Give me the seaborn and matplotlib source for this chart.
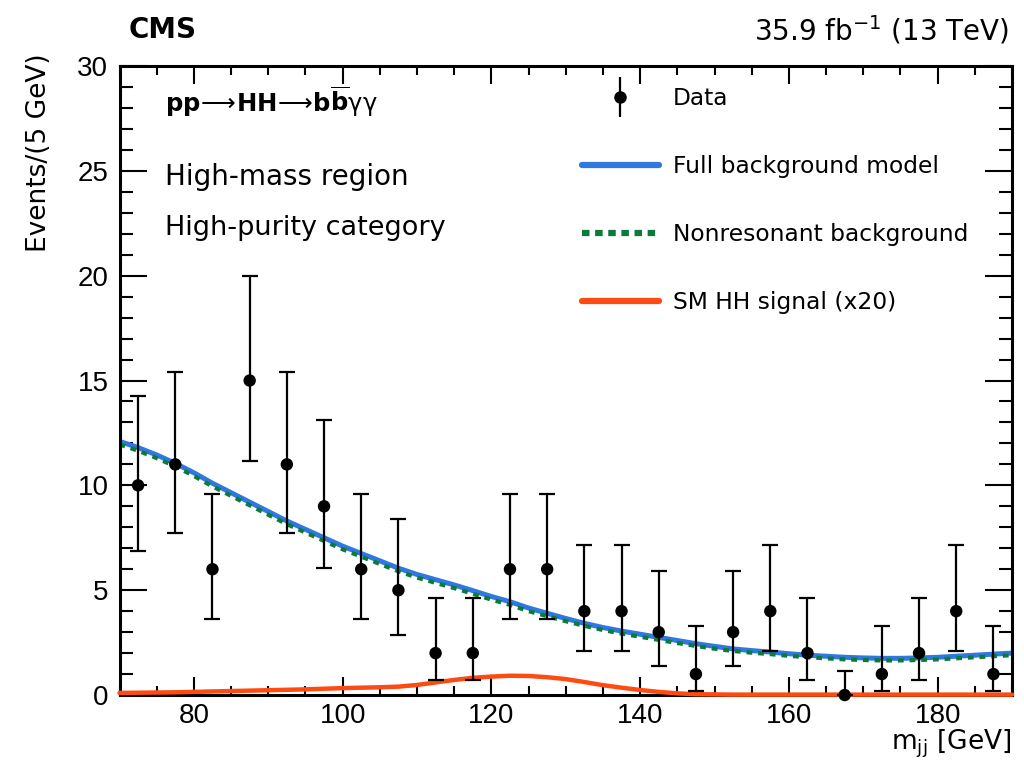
import numpy as np
import pandas as pd
import matplotlib
matplotlib.use("Agg")
import matplotlib.pyplot as plt
from matplotlib.lines import Line2D
from matplotlib.legend_handler import HandlerErrorbar
from matplotlib.ticker import MultipleLocator
import seaborn as sns

# binned data (bin centres, 5 GeV bins)
mass = [72.5, 77.5, 82.5, 87.5, 92.5, 97.5, 102.5, 107.5, 112.5, 117.5, 122.5, 127.5,
        132.5, 137.5, 142.5, 147.5, 152.5, 157.5, 162.5, 167.5, 172.5, 177.5, 182.5, 187.5]
events = [10, 11, 6, 15, 11, 9, 6, 5, 2, 2, 6, 6, 4, 4, 3, 1, 3, 4, 2, 0, 1, 2, 4, 1]
err_down = [3.11, 3.27, 2.38, 3.82, 3.27, 2.94, 2.38, 2.16, 1.29, 1.29, 2.38, 2.38,
            1.91, 1.91, 1.63, 0.83, 1.63, 1.91, 1.29, 0.0, 0.83, 1.29, 1.91, 0.83]
err_up = [4.27, 4.42, 3.58, 4.97, 4.42, 4.11, 3.58, 3.38, 2.64, 2.64, 3.58, 3.58,
          3.16, 3.16, 2.92, 2.30, 2.92, 3.16, 2.64, 1.15, 2.30, 2.64, 3.16, 2.30]

# model curves sampled every 2.5 GeV
curve_mass = [70, 72.5, 75, 77.5, 80, 82.5, 85, 87.5, 90, 92.5, 95, 97.5, 100, 102.5, 105,
              107.5, 110, 112.5, 115, 117.5, 120, 122.5, 125, 127.5, 130, 132.5, 135, 137.5,
              140, 142.5, 145, 147.5, 150, 152.5, 155, 157.5, 160, 162.5, 165, 167.5, 170,
              172.5, 175, 177.5, 180, 182.5, 185, 187.5, 190]
bkg_full = [12.1, 11.8, 11.45, 11.05, 10.6, 10.1, 9.65, 9.2, 8.75, 8.3, 7.9, 7.5, 7.1, 6.75,
            6.4, 6.05, 5.75, 5.5, 5.25, 4.98, 4.7, 4.45, 4.15, 3.9, 3.65, 3.42, 3.22, 3.05,
            2.9, 2.75, 2.6, 2.45, 2.32, 2.2, 2.12, 2.05, 1.97, 1.9, 1.85, 1.8, 1.77, 1.75,
            1.75, 1.77, 1.8, 1.85, 1.9, 1.95, 2.0]
bkg_nonres = [11.95, 11.65, 11.3, 10.9, 10.45, 9.95, 9.5, 9.05, 8.6, 8.15, 7.75, 7.35, 6.95,
              6.6, 6.25, 5.9, 5.6, 5.35, 5.1, 4.83, 4.55, 4.3, 4.0, 3.76, 3.52, 3.3, 3.1,
              2.93, 2.78, 2.63, 2.48, 2.34, 2.21, 2.1, 2.02, 1.95, 1.87, 1.8, 1.75, 1.7,
              1.67, 1.65, 1.65, 1.67, 1.7, 1.75, 1.8, 1.85, 1.9]
signal_x20 = [0.10, 0.11, 0.12, 0.13, 0.15, 0.17, 0.19, 0.21, 0.23, 0.25, 0.27, 0.30, 0.33,
              0.35, 0.37, 0.40, 0.48, 0.60, 0.72, 0.82, 0.88, 0.92, 0.91, 0.85, 0.76, 0.62,
              0.47, 0.35, 0.24, 0.15, 0.08, 0.04, 0.03, 0.02, 0.02, 0.02, 0.02, 0.02, 0.02,
              0.02, 0.02, 0.02, 0.02, 0.02, 0.02, 0.02, 0.02, 0.02, 0.02]

blue = "#2f78e0"
green = "#0b7a3b"
red = "#ff4a12"

sns.set_theme(style="ticks")
plt.rcParams["font.family"] = ["DejaVu Sans"]
plt.rcParams["mathtext.fontset"] = "dejavusans"
plt.rcParams["text.color"] = "black"
plt.rcParams["axes.labelcolor"] = "black"

fig = plt.figure(figsize=(10.24, 7.72), dpi=100)
ax = fig.add_axes([0.1167, 0.0997, 0.8716, 0.8148])

curves = pd.DataFrame({"mass": curve_mass, "full": bkg_full,
                       "nonres": bkg_nonres, "signal": signal_x20})
sns.lineplot(data=curves, x="mass", y="full", ax=ax, color=blue, lw=3.6, zorder=2)
sns.lineplot(data=curves, x="mass", y="nonres", ax=ax, color=green, lw=3,
             linestyle=(0, (1.4, 1.4)), zorder=2.5)
sns.lineplot(data=curves, x="mass", y="signal", ax=ax, color=red, lw=3.2, zorder=3,
             clip_on=False)

ax.errorbar(mass, events, yerr=[err_down, err_up], fmt="none", ecolor="black",
            elinewidth=1.6, capsize=5.5, capthick=1.6, zorder=4)
points = pd.DataFrame({"mass": mass, "events": events})
sns.scatterplot(data=points, x="mass", y="events", ax=ax, color="black", s=80,
                edgecolor="none", zorder=5, clip_on=False)

ax.set_xlim(70, 190)
ax.set_ylim(0, 30)
ax.xaxis.set_major_locator(MultipleLocator(20))
ax.xaxis.set_minor_locator(MultipleLocator(5))
ax.yaxis.set_major_locator(MultipleLocator(5))
ax.yaxis.set_minor_locator(MultipleLocator(1))
ax.tick_params(which="both", direction="in", top=True, right=True, width=1.5,
               labelsize=20, pad=8, colors="black", labelfontfamily="Liberation Sans")
ax.tick_params(axis="x", which="both", pad=6)
ax.tick_params(axis="x", which="major", length=13)
ax.tick_params(axis="x", which="minor", length=6.5)
ax.tick_params(axis="y", which="major", length=19.5)
ax.tick_params(axis="y", which="minor", length=9.5)
for sp in ax.spines.values():
    sp.set_linewidth(2.2)
    sp.set_color("black")

ax.set_xlabel(r"m$_{\mathregular{jj}}$ [GeV]", fontsize=19, loc="right")
ax.xaxis.set_label_coords(0.999, -0.052)
ax.set_ylabel("Events/(5 GeV)", fontsize=19, loc="top")
ax.yaxis.set_label_coords(-0.076, 1.02)

fig.text(0.126, 0.961, "CMS", fontsize=20, fontweight="bold", va="center", ha="left")
fig.text(0.985, 0.961, r"35.9 fb$^{\mathregular{-1}}$ (13 TeV)", fontsize=20,
         va="center", ha="right")

ax.text(0.051, 0.927,
        r"$\mathbf{pp}\!\longrightarrow\!\mathbf{HH}\!\longrightarrow\!\mathbf{b}\overline{\mathbf{b}}\mathrm{\gamma\gamma}$",
        transform=ax.transAxes, fontsize=17.5, va="baseline", ha="left")
ax.text(0.051, 0.811, "High-mass region", transform=ax.transAxes, fontsize=20,
        va="baseline", ha="left")
ax.text(0.051, 0.731, "High-purity category", transform=ax.transAxes, fontsize=19.5,
        va="baseline", ha="left")

data_handle = ax.errorbar([np.nan], [np.nan], yerr=[1.0], fmt="o", color="black",
                          markersize=8, elinewidth=1.6, capsize=0)
handles = [
    data_handle,
    Line2D([], [], color=blue, lw=4.5),
    Line2D([], [], color=green, lw=4.5, linestyle=(0, (1.2, 0.9))),
    Line2D([], [], color=red, lw=4.5),
]
labels = ["Data", "Full background model", "Nonresonant background", "SM HH signal (x20)"]
ax.legend(handles, labels, loc="upper left", bbox_to_anchor=(0.518, 0.966),
          frameon=False, fontsize=16.8, handlelength=3.3, handletextpad=0.6,
          labelspacing=1.93, borderpad=0, borderaxespad=0,
          handler_map={data_handle: HandlerErrorbar(yerr_size=0.86)})

fig.savefig("out.png", dpi=100)
